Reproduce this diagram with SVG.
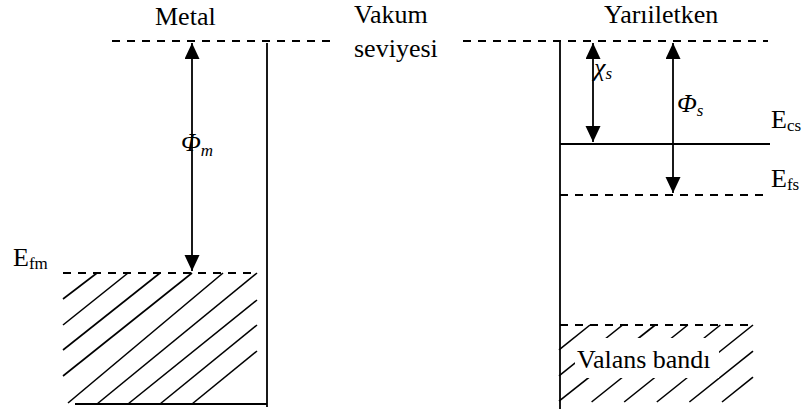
<svg xmlns="http://www.w3.org/2000/svg" width="803" height="409" viewBox="0 0 803 409">
<style>
.t{font-family:"Liberation Serif","Times New Roman",serif;font-size:26px;fill:#000}
.i{font-style:italic}
.sub{font-size:17px}
.ln{stroke:#000;stroke-width:1.8;fill:none}
.ds{stroke:#000;stroke-width:1.8;fill:none;stroke-dasharray:8 7}
.h{stroke:#000;stroke-width:1.6;fill:none}
</style>
<defs>
<marker id="ah" markerUnits="userSpaceOnUse" markerWidth="17" markerHeight="16" refX="16" refY="7.5" orient="auto-start-reverse">
<path d="M0,0 L16,7.5 L0,15 z" fill="#000"/>
</marker>
</defs>
<rect width="803" height="409" fill="#fff"/>

<g id="metal">
<line class="ds" x1="112" y1="41" x2="330" y2="41"/>
<line class="ln" x1="267" y1="43" x2="267" y2="407"/>
<line class="ln" x1="75" y1="404" x2="267" y2="404"/>
<line class="ds" x1="63" y1="273" x2="258" y2="273"/>
<g class="h">
<line x1="63" y1="299" x2="97" y2="273"/>
<line x1="63" y1="325" x2="128" y2="273"/>
<line x1="63" y1="350" x2="160" y2="273"/>
<line x1="63" y1="376" x2="192" y2="273"/>
<line x1="68" y1="403" x2="223" y2="273"/>
<line x1="97" y1="404" x2="257" y2="273"/>
<line x1="128" y1="404" x2="257" y2="300"/>
<line x1="160" y1="404" x2="257" y2="325"/>
<line x1="192" y1="404" x2="257" y2="351"/>
</g>
<text class="t" x="155" y="25">Metal</text>
<text class="t" x="13" y="266">E<tspan class="sub" dy="3">fm</tspan></text>
</g>

<g id="vacuum">
<text class="t" x="354" y="23">Vakum</text>
<text class="t" x="354" y="57">seviyesi</text>
</g>

<g id="semiconductor">
<line class="ds" x1="463" y1="41" x2="768" y2="41"/>
<line class="ln" x1="560" y1="41" x2="560" y2="409"/>
<line class="ln" x1="560" y1="144" x2="770" y2="144"/>
<line class="ds" x1="560" y1="195" x2="764" y2="195"/>
<line class="ds" x1="560" y1="325" x2="754" y2="325"/>
<g class="h">
<line x1="559" y1="349.8" x2="590" y2="325"/>
<line x1="559" y1="375.9" x2="622.6" y2="325"/>
<line x1="559" y1="401.2" x2="655.2" y2="325"/>
<line x1="591.6" y1="402" x2="687.8" y2="325"/>
<line x1="624.2" y1="402" x2="720.4" y2="325"/>
<line x1="656.8" y1="402" x2="753" y2="325"/>
<line x1="689.4" y1="402" x2="753" y2="351.1"/>
<line x1="722" y1="402" x2="753" y2="377.2"/>
</g>
<rect x="575" y="338" width="144" height="40" fill="#fff"/>
<text class="t" x="577" y="368">Valans bandı</text>
<text class="t" x="604" y="23">Yarıiletken</text>
<text class="t" x="771" y="128">E<tspan class="sub" dy="3">cs</tspan></text>
<text class="t" x="771" y="187">E<tspan class="sub" dy="3">fs</tspan></text>
</g>

<g id="connectors">
<line class="ln" x1="192" y1="43" x2="192" y2="271" marker-start="url(#ah)" marker-end="url(#ah)"/>
<line class="ln" x1="593" y1="43" x2="593" y2="142" marker-start="url(#ah)" marker-end="url(#ah)"/>
<line class="ln" x1="673" y1="43" x2="673" y2="193" marker-start="url(#ah)" marker-end="url(#ah)"/>
</g>

<g id="labels">
<text class="t i" x="181" y="151" font-size="23">Φ<tspan class="sub" dy="5">m</tspan></text>
<text class="t i" x="594" y="76" font-size="23">χ<tspan class="sub" dy="3">s</tspan></text>
<text class="t i" x="677" y="112" font-size="23">Φ<tspan class="sub" dy="4">s</tspan></text>
</g>
</svg>
